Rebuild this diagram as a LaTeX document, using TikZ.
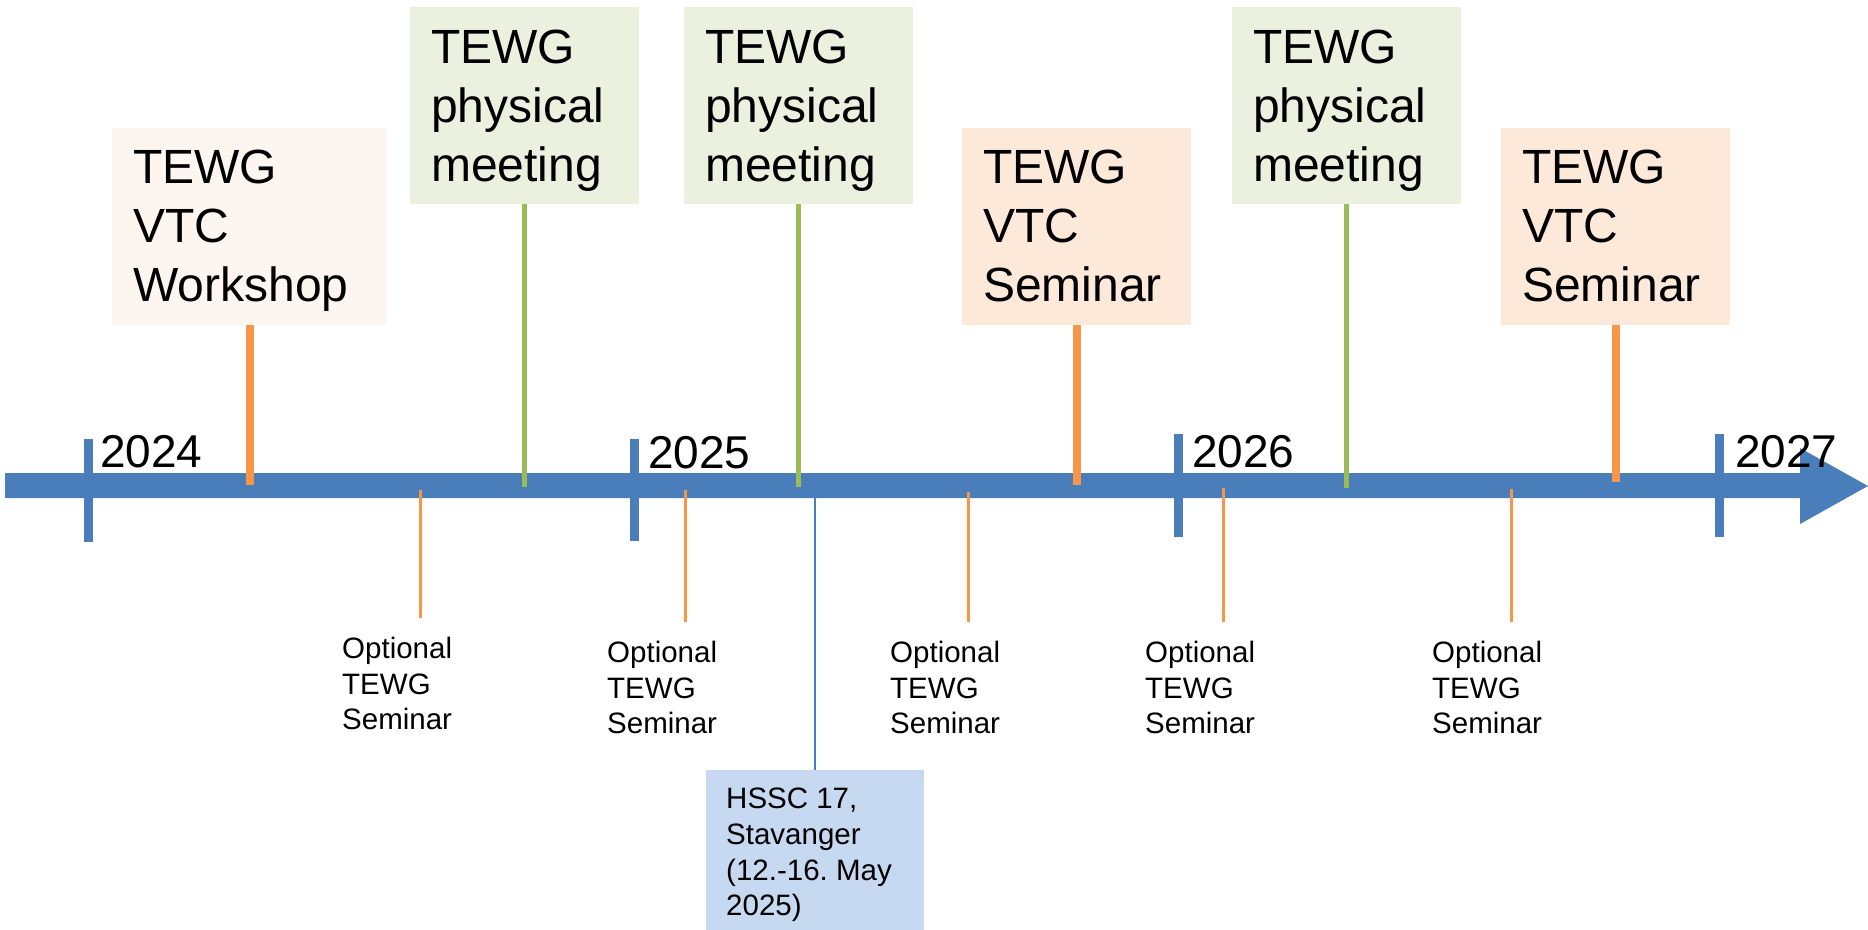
\documentclass[tikz,border=0pt]{standalone}
\usepackage{fontspec}
\setmainfont{Liberation Sans}
\frenchspacing
\definecolor{barblue}{HTML}{4A7EBB}
\definecolor{orng}{HTML}{F79646}
\definecolor{grn}{HTML}{9BBB59}
\definecolor{wfill}{HTML}{FDF5EF}
\definecolor{sfill}{HTML}{FDE9D9}
\definecolor{pfill}{HTML}{EBF1DE}
\definecolor{hfill}{HTML}{C6D9F1}
\begin{document}
\begin{tikzpicture}[x=1pt,y=-1pt,
  boxbase/.style={anchor=north west, inner sep=0pt, outer sep=0pt, draw=none},
  wbox/.style={boxbase, fill=wfill, minimum width=275, minimum height=197},
  sbox/.style={boxbase, fill=sfill, minimum width=229, minimum height=197},
  pbox/.style={boxbase, fill=pfill, minimum width=229, minimum height=197},
  hbox/.style={boxbase, fill=hfill, minimum width=218, minimum height=162},
  bigtxt/.style={anchor=north west, inner sep=0pt, align=left, font=\fontsize{48}{59}\selectfont},
  smalltxt/.style={anchor=north west, inner sep=0pt, align=left, font=\fontsize{29.5}{35.6}\selectfont},
  yeartxt/.style={anchor=base west, inner sep=0pt, font=\fontsize{46}{50}\selectfont},
  evo/.style={draw=orng, line width=8},
  evg/.style={draw=grn, line width=5},
  optline/.style={draw=orng, line width=3},
  yeartick/.style={draw=barblue, line width=9},
  hline/.style={draw=barblue, line width=2}
]
\useasboundingbox (0,0) rectangle (1868,929);

% boxes
\node[wbox] (w) at (112,128) {};
\node[pbox] (p1) at (410,7) {};
\node[pbox] (p2) at (684,7) {};
\node[sbox] (s1) at (962,128) {};
\node[pbox] (p3) at (1232,7) {};
\node[sbox] (s2) at (1501,128) {};
\node[hbox] (h) at (706,770) {};

% timeline arrow
\coordinate (a1) at (5,473);
\coordinate (a2) at (1800,473);
\coordinate (a3) at (1800,448);
\coordinate (tip) at (1868,486);
\coordinate (a5) at (1800,524);
\coordinate (a6) at (1800,498);
\coordinate (a7) at (5,498);
\fill[barblue] (a1) -- (a2) -- (a3) -- (tip) -- (a5) -- (a6) -- (a7) -- cycle;

% year ticks
\coordinate (y24t) at (88.5,439); \coordinate (y24b) at (88.5,542);
\coordinate (y25t) at (634.5,439); \coordinate (y25b) at (634.5,541);
\coordinate (y26t) at (1178,434); \coordinate (y26b) at (1178,537);
\coordinate (y27t) at (1719,434); \coordinate (y27b) at (1719,537);
\draw[yeartick] (y24t) -- (y24b);
\draw[yeartick] (y25t) -- (y25b);
\draw[yeartick] (y26t) -- (y26b);
\draw[yeartick] (y27t) -- (y27b);

% event connectors
\coordinate (wE) at (249.5,485);
\coordinate (p1E) at (524.5,487);
\coordinate (p2E) at (798.5,487);
\coordinate (s1E) at (1076.5,485);
\coordinate (p3E) at (1346.5,488);
\coordinate (s2E) at (1615.5,482);
\draw[evo] (w.south) -- (wE);
\draw[evg] (p1.south) -- (p1E);
\draw[evg] (p2.south) -- (p2E);
\draw[evo] (s1.south) -- (s1E);
\draw[evg] (p3.south) -- (p3E);
\draw[evo] (s2.south) -- (s2E);

% optional seminar ticks
\coordinate (o1t) at (420,490); \coordinate (o1b) at (420,618);
\coordinate (o2t) at (685,490); \coordinate (o2b) at (685,622);
\coordinate (o3t) at (968,492); \coordinate (o3b) at (968,622);
\coordinate (o4t) at (1223,488); \coordinate (o4b) at (1223,622);
\coordinate (o5t) at (1511,489); \coordinate (o5b) at (1511,622);
\draw[optline] (o1t) -- (o1b);
\draw[optline] (o2t) -- (o2b);
\draw[optline] (o3t) -- (o3b);
\draw[optline] (o4t) -- (o4b);
\draw[optline] (o5t) -- (o5b);

% HSSC connector
\coordinate (hE) at (815,498);
\draw[hline] (hE) -- (h.north);

% box texts
\node[bigtxt] (wt) at (133,150) {TEWG\\VTC\\Workshop};
\node[bigtxt] (p1t) at (431,30) {TEWG\\physical\\meeting};
\node[bigtxt] (p2t) at (705,30) {TEWG\\physical\\meeting};
\node[bigtxt] (s1t) at (983,150) {TEWG\\VTC\\Seminar};
\node[bigtxt] (p3t) at (1253,30) {TEWG\\physical\\meeting};
\node[bigtxt] (s2t) at (1522,150) {TEWG\\VTC\\Seminar};

% optional texts
\node[smalltxt] (o1) at (342,637) {Optional\\TEWG\\Seminar};
\node[smalltxt] (o2) at (607,641) {Optional\\TEWG\\Seminar};
\node[smalltxt] (o3) at (890,641) {Optional\\TEWG\\Seminar};
\node[smalltxt] (o4) at (1145,641) {Optional\\TEWG\\Seminar};
\node[smalltxt] (o5) at (1432,641) {Optional\\TEWG\\Seminar};

% HSSC text
\node[smalltxt] (ht) at (726,788) {HSSC 17,\\Stavanger\\(12.-16. May\\2025)};

% years
\node[yeartxt] (t24) at (100,467) {2024};
\node[yeartxt] (t25) at (648,468) {2025};
\node[yeartxt] (t26) at (1192,467) {2026};
\node[yeartxt] (t27) at (1735,467) {2027};
\end{tikzpicture}
\end{document}
